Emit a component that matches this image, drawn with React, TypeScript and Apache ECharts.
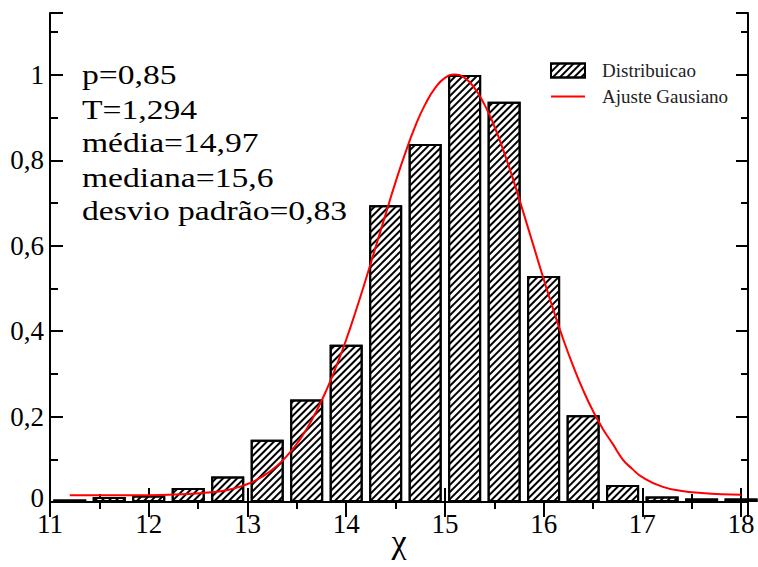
import React, { useEffect, useRef } from 'react';
import * as echarts from 'echarts';

const binCenters = [11.2, 11.6, 12.0, 12.4, 12.8, 13.2, 13.6, 14.0, 14.4, 14.8, 15.2, 15.6, 16.0, 16.4, 16.8, 17.2, 17.6, 18.0];
const binValues = [0.006, 0.012, 0.015, 0.033, 0.06, 0.146, 0.24, 0.368, 0.695, 0.838, 1.0, 0.937, 0.529, 0.203, 0.04, 0.013, 0.008, 0.008];

const fitX = [11.2, 11.6, 12.0, 12.4, 12.6, 12.8, 13.0, 13.1, 13.2, 13.3, 13.4, 13.5, 13.6, 13.7, 13.8, 13.9, 14.0, 14.1, 14.2, 14.3, 14.4, 14.5, 14.6, 14.7, 14.8, 14.9, 15.0, 15.1, 15.2, 15.3, 15.4, 15.5, 15.6, 15.7, 15.8, 15.9, 16.0, 16.1, 16.2, 16.3, 16.4, 16.5, 16.6, 16.7, 16.8, 16.9, 17.0, 17.2, 17.4, 17.6, 17.8, 18.0];
const fitY = [0.016, 0.016, 0.016, 0.019, 0.022, 0.028, 0.042, 0.053, 0.067, 0.085, 0.108, 0.136, 0.171, 0.213, 0.262, 0.318, 0.38, 0.449, 0.522, 0.598, 0.674, 0.749, 0.818, 0.88, 0.931, 0.969, 0.993, 1.001, 0.993, 0.969, 0.931, 0.88, 0.818, 0.749, 0.674, 0.598, 0.522, 0.449, 0.38, 0.318, 0.262, 0.213, 0.171, 0.136, 0.1, 0.077, 0.058, 0.036, 0.026, 0.021, 0.018, 0.017];

const xTickLabels = ['11', '12', '13', '14', '15', '16', '17', '18'];
const yTickLabels = ['0', '0,2', '0,4', '0,6', '0,8', '1'];
const statsLines = ['p=0,85', 'T=1,294', 'média=14,97', 'mediana=15,6', 'desvio padrão=0,83'];

const FONT = "'Liberation Serif', 'Times New Roman', Times, 'DejaVu Serif', serif";
const X_MIN = 11;
const X_MAX = 18.07;
const Y_MIN = 0;
const Y_MAX = 1.145;

export default function App() {
  const ref = useRef<HTMLDivElement>(null);
  useEffect(() => {
    if (!ref.current) return;
    const chart = echarts.init(ref.current, null, { renderer: 'svg' });
    const xFmt = (v: number) => {
      const i = Math.round(v - X_MIN);
      if (Math.abs(v - (X_MIN + i)) < 1e-6 && i >= 0 && i < xTickLabels.length) return xTickLabels[i];
      return '';
    };
    const yFmt = (v: number) => {
      const i = Math.round(v / 0.2);
      if (Math.abs(v - i * 0.2) < 1e-6 && i >= 0 && i < yTickLabels.length) {
        return i === 0 ? `{z|${yTickLabels[0]}}` : yTickLabels[i];
      }
      return '';
    };
    const tickStyle = { color: '#000', width: 2 };
    const baseX = { type: 'value', min: X_MIN, max: X_MAX, splitLine: { show: false } };
    const baseY = { type: 'value', min: Y_MIN, max: Y_MAX, splitLine: { show: false } };
    chart.setOption({
      animation: false,
      backgroundColor: '#fff',
      textStyle: { fontFamily: FONT },
      grid: { left: 50, right: 10, top: 13, bottom: 65, containLabel: false, outerBoundsMode: 'none' },
      legend: {
        orient: 'vertical',
        left: 545,
        top: 56,
        itemWidth: 34,
        itemHeight: 14,
        itemGap: 7,
        textStyle: { fontFamily: FONT, fontSize: 19, color: '#222', padding: [0, 0, 0, 12] },
        data: [
          { name: 'Distribuicao', icon: 'rect' },
          { name: 'Ajuste Gausiano', itemStyle: { color: 'rgba(0,0,0,0)', borderColor: 'rgba(0,0,0,0)', borderWidth: 0 } },
        ],
      },
      xAxis: [
        {
          ...baseX, position: 'bottom', interval: 1,
          axisLine: { show: true, lineStyle: { color: '#000', width: 2 } },
          axisTick: { show: true, inside: true, length: 14, lineStyle: tickStyle },
          axisLabel: { show: true, margin: 12, lineHeight: 20, color: '#000', fontFamily: FONT, fontSize: 27, formatter: xFmt },
          name: 'χ', nameLocation: 'middle', nameGap: 22, nameMoveOverlap: false,
          nameTextStyle: { fontFamily: FONT, fontSize: 34, color: '#000' },
        },
        {
          ...baseX, position: 'bottom', interval: 0.5,
          axisLine: { show: false },
          axisTick: { show: true, inside: true, length: 8, lineStyle: tickStyle },
          axisLabel: { show: false },
        },
        {
          ...baseX, position: 'top', interval: 1,
          axisLine: { show: true, lineStyle: { color: '#000', width: 2 } },
          axisTick: { show: true, inside: true, length: 15, lineStyle: tickStyle },
          axisLabel: { show: false },
        },
        {
          ...baseX, position: 'top', interval: 0.5,
          axisLine: { show: false },
          axisTick: { show: true, inside: true, length: 7, lineStyle: tickStyle },
          axisLabel: { show: false },
        },
      ],
      yAxis: [
        {
          ...baseY, position: 'left', interval: 0.2,
          axisLine: { show: true, lineStyle: { color: '#000', width: 2 } },
          axisTick: { show: true, inside: true, length: 13, lineStyle: tickStyle },
          axisLabel: {
            show: true, margin: 6, lineHeight: 18, color: '#000', fontFamily: FONT, fontSize: 27, formatter: yFmt,
            rich: { z: { fontFamily: FONT, fontSize: 27, color: '#000', lineHeight: 18, padding: [0, 0, 8, 0] } },
          },
        },
        {
          ...baseY, position: 'left', interval: 0.1,
          axisLine: { show: false },
          axisTick: { show: true, inside: true, length: 8, lineStyle: tickStyle },
          axisLabel: { show: false },
        },
        {
          ...baseY, position: 'right', interval: 0.2,
          axisLine: { show: true, lineStyle: { color: '#000', width: 2 } },
          axisTick: { show: true, inside: true, length: 12, lineStyle: tickStyle },
          axisLabel: { show: false },
        },
        {
          ...baseY, position: 'right', interval: 0.1,
          axisLine: { show: false },
          axisTick: { show: true, inside: true, length: 7, lineStyle: tickStyle },
          axisLabel: { show: false },
        },
      ],
      series: [
        {
          type: 'bar',
          name: 'Distribuicao',
          xAxisIndex: 0,
          yAxisIndex: 0,
          barWidth: 33,
          data: binCenters.map((c, i) => [c, binValues[i]]),
          itemStyle: {
            color: '#fff',
            borderColor: '#000',
            borderWidth: 2,
            decal: {
              symbol: 'rect',
              symbolSize: 1,
              color: '#000',
              dashArrayX: [1, 0],
              dashArrayY: [2, 3],
              rotation: -Math.PI / 4,
            },
          },
          z: 2,
        },
        {
          type: 'line',
          name: 'Ajuste Gausiano',
          xAxisIndex: 0,
          yAxisIndex: 0,
          data: fitX.map((x, i) => [x, fitY[i]]),
          smooth: true,
          symbol: 'none',
          lineStyle: { color: '#ff0000', width: 2 },
          itemStyle: { color: '#ff0000' },
          z: 3,
        },
      ],
      graphic: [
        {
          type: 'text',
          x: 82,
          y: 58,
          scaleX: 1.2,
          style: {
            text: statsLines.join('\n'),
            fontFamily: FONT,
            fontSize: 28,
            lineHeight: 34,
            fill: '#000',
            textAlign: 'left',
            textVerticalAlign: 'top',
          },
          z: 10,
        },
      ],
    });
    return () => chart.dispose();
  }, []);
  return <div ref={ref} style={{ position: 'fixed', left: 0, top: 0, width: 758, height: 567 }} />;
}
